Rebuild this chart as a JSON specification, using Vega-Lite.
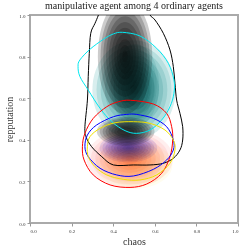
{
  "$schema": "https://vega.github.io/schema/vega-lite/v6.json",
  "width": 208,
  "height": 208,
  "autosize": {"type": "none"},
  "padding": {"left": 30, "top": 15, "right": 11, "bottom": 26},
  "background": "white",
  "title": {"text": "manipulative agent among 4 ordinary agents", "font": "Liberation Serif", "fontSize": 10, "fontWeight": "normal", "color": "#222222", "offset": 2},
  "config": {
    "view": {"stroke": "#aaaaaa", "strokeWidth": 2},
    "axis": {"grid": false, "domain": false, "tickColor": "#999999", "tickSize": 3, "labelFont": "Liberation Serif", "labelFontSize": 5, "labelColor": "#333333", "titleFont": "Liberation Serif", "titleFontSize": 10, "titleFontWeight": "normal", "titleColor": "#333333", "labelPadding": 2}
  },
  "datasets": {
    "blobs": [
      {"blob": "black-top", "cx": 0.457, "cy": 0.80, "level": 1},
      {"blob": "black-top", "cx": 0.457, "cy": 0.80, "level": 2},
      {"blob": "black-top", "cx": 0.457, "cy": 0.80, "level": 3},
      {"blob": "black-top", "cx": 0.457, "cy": 0.80, "level": 4},
      {"blob": "black-top", "cx": 0.457, "cy": 0.80, "level": 5},
      {"blob": "black-top", "cx": 0.457, "cy": 0.80, "level": 6},
      {"blob": "black-top", "cx": 0.457, "cy": 0.80, "level": 7},
      {"blob": "black-top", "cx": 0.457, "cy": 0.80, "level": 8},
      {"blob": "black-top", "cx": 0.457, "cy": 0.80, "level": 9},
      {"blob": "black-top", "cx": 0.457, "cy": 0.80, "level": 10},
      {"blob": "black-low", "cx": 0.46, "cy": 0.44, "level": 3},
      {"blob": "black-low", "cx": 0.46, "cy": 0.44, "level": 4},
      {"blob": "black-low", "cx": 0.46, "cy": 0.44, "level": 5},
      {"blob": "black-low", "cx": 0.46, "cy": 0.44, "level": 6},
      {"blob": "black-low", "cx": 0.46, "cy": 0.44, "level": 7},
      {"blob": "black-low", "cx": 0.46, "cy": 0.44, "level": 8},
      {"blob": "black-low", "cx": 0.46, "cy": 0.44, "level": 9},
      {"blob": "black-low", "cx": 0.46, "cy": 0.44, "level": 10},
      {"blob": "teal-wide", "cx": 0.50, "cy": 0.64, "level": 1},
      {"blob": "teal-wide", "cx": 0.50, "cy": 0.64, "level": 2},
      {"blob": "teal-wide", "cx": 0.50, "cy": 0.64, "level": 3},
      {"blob": "teal-wide", "cx": 0.50, "cy": 0.64, "level": 4},
      {"blob": "teal-wide", "cx": 0.50, "cy": 0.64, "level": 5},
      {"blob": "teal-wide", "cx": 0.50, "cy": 0.64, "level": 6},
      {"blob": "teal-wide", "cx": 0.50, "cy": 0.64, "level": 7},
      {"blob": "teal-wide", "cx": 0.50, "cy": 0.64, "level": 8},
      {"blob": "teal-wide", "cx": 0.50, "cy": 0.64, "level": 9},
      {"blob": "teal-wide", "cx": 0.50, "cy": 0.64, "level": 10},
      {"blob": "teal-core", "cx": 0.505, "cy": 0.66, "level": 1},
      {"blob": "teal-core", "cx": 0.505, "cy": 0.66, "level": 2},
      {"blob": "teal-core", "cx": 0.505, "cy": 0.66, "level": 3},
      {"blob": "teal-core", "cx": 0.505, "cy": 0.66, "level": 4},
      {"blob": "teal-core", "cx": 0.505, "cy": 0.66, "level": 5},
      {"blob": "teal-core", "cx": 0.505, "cy": 0.66, "level": 6},
      {"blob": "teal-core", "cx": 0.505, "cy": 0.66, "level": 7},
      {"blob": "teal-core", "cx": 0.505, "cy": 0.66, "level": 8},
      {"blob": "teal-core", "cx": 0.505, "cy": 0.66, "level": 9},
      {"blob": "teal-core", "cx": 0.505, "cy": 0.66, "level": 10},
      {"blob": "blue", "cx": 0.473, "cy": 0.36, "level": 1},
      {"blob": "blue", "cx": 0.473, "cy": 0.36, "level": 2},
      {"blob": "blue", "cx": 0.473, "cy": 0.36, "level": 3},
      {"blob": "blue", "cx": 0.473, "cy": 0.36, "level": 4},
      {"blob": "blue", "cx": 0.473, "cy": 0.36, "level": 5},
      {"blob": "blue", "cx": 0.473, "cy": 0.36, "level": 6},
      {"blob": "blue", "cx": 0.473, "cy": 0.36, "level": 7},
      {"blob": "blue", "cx": 0.473, "cy": 0.36, "level": 8},
      {"blob": "blue", "cx": 0.473, "cy": 0.36, "level": 9},
      {"blob": "blue", "cx": 0.473, "cy": 0.36, "level": 10},
      {"blob": "red", "cx": 0.48, "cy": 0.31, "level": 1},
      {"blob": "red", "cx": 0.48, "cy": 0.31, "level": 2},
      {"blob": "red", "cx": 0.48, "cy": 0.31, "level": 3},
      {"blob": "red", "cx": 0.48, "cy": 0.31, "level": 4},
      {"blob": "red", "cx": 0.48, "cy": 0.31, "level": 5},
      {"blob": "red", "cx": 0.48, "cy": 0.31, "level": 6},
      {"blob": "red", "cx": 0.48, "cy": 0.31, "level": 7},
      {"blob": "red", "cx": 0.48, "cy": 0.31, "level": 8},
      {"blob": "red", "cx": 0.48, "cy": 0.31, "level": 9},
      {"blob": "red", "cx": 0.48, "cy": 0.31, "level": 10},
      {"blob": "yellow", "cx": 0.50, "cy": 0.28, "level": 1},
      {"blob": "yellow", "cx": 0.50, "cy": 0.28, "level": 2},
      {"blob": "yellow", "cx": 0.50, "cy": 0.28, "level": 3},
      {"blob": "yellow", "cx": 0.50, "cy": 0.28, "level": 4},
      {"blob": "yellow", "cx": 0.50, "cy": 0.28, "level": 5},
      {"blob": "yellow", "cx": 0.50, "cy": 0.28, "level": 6},
      {"blob": "yellow", "cx": 0.50, "cy": 0.28, "level": 7},
      {"blob": "yellow", "cx": 0.50, "cy": 0.28, "level": 8},
      {"blob": "yellow", "cx": 0.50, "cy": 0.28, "level": 9},
      {"blob": "yellow", "cx": 0.50, "cy": 0.28, "level": 10}
    ],
    "contours": [
      {"agent": "black", "i": 0, "x": 0.329, "y": 1.0},
      {"agent": "black", "i": 1, "x": 0.3125, "y": 0.960},
      {"agent": "black", "i": 2, "x": 0.292, "y": 0.912},
      {"agent": "black", "i": 3, "x": 0.285, "y": 0.816},
      {"agent": "black", "i": 4, "x": 0.280, "y": 0.704},
      {"agent": "black", "i": 5, "x": 0.276, "y": 0.591},
      {"agent": "black", "i": 6, "x": 0.264, "y": 0.463},
      {"agent": "black", "i": 7, "x": 0.269, "y": 0.415},
      {"agent": "black", "i": 8, "x": 0.296, "y": 0.367},
      {"agent": "black", "i": 9, "x": 0.345, "y": 0.319},
      {"agent": "black", "i": 10, "x": 0.401, "y": 0.279},
      {"agent": "black", "i": 11, "x": 0.497, "y": 0.279},
      {"agent": "black", "i": 12, "x": 0.577, "y": 0.279},
      {"agent": "black", "i": 13, "x": 0.641, "y": 0.287},
      {"agent": "black", "i": 14, "x": 0.689, "y": 0.311},
      {"agent": "black", "i": 15, "x": 0.721, "y": 0.351},
      {"agent": "black", "i": 16, "x": 0.734, "y": 0.399},
      {"agent": "black", "i": 17, "x": 0.734, "y": 0.463},
      {"agent": "black", "i": 18, "x": 0.721, "y": 0.527},
      {"agent": "black", "i": 19, "x": 0.705, "y": 0.591},
      {"agent": "black", "i": 20, "x": 0.697, "y": 0.671},
      {"agent": "black", "i": 21, "x": 0.689, "y": 0.752},
      {"agent": "black", "i": 22, "x": 0.673, "y": 0.832},
      {"agent": "black", "i": 23, "x": 0.641, "y": 0.912},
      {"agent": "black", "i": 24, "x": 0.601, "y": 0.976},
      {"agent": "black", "i": 25, "x": 0.577, "y": 1.0},
      {"agent": "black", "i": 26, "x": 0.55, "y": 1.06},
      {"agent": "black", "i": 27, "x": 0.45, "y": 1.09},
      {"agent": "black", "i": 28, "x": 0.35, "y": 1.06},
      {"agent": "cyan", "i": 0, "x": 0.4455, "y": 0.9167},
      {"agent": "cyan", "i": 1, "x": 0.529, "y": 0.899},
      {"agent": "cyan", "i": 2, "x": 0.609, "y": 0.840},
      {"agent": "cyan", "i": 3, "x": 0.665, "y": 0.768},
      {"agent": "cyan", "i": 4, "x": 0.692, "y": 0.688},
      {"agent": "cyan", "i": 5, "x": 0.692, "y": 0.623},
      {"agent": "cyan", "i": 6, "x": 0.673, "y": 0.559},
      {"agent": "cyan", "i": 7, "x": 0.633, "y": 0.495},
      {"agent": "cyan", "i": 8, "x": 0.577, "y": 0.447},
      {"agent": "cyan", "i": 9, "x": 0.513, "y": 0.431},
      {"agent": "cyan", "i": 10, "x": 0.457, "y": 0.444},
      {"agent": "cyan", "i": 11, "x": 0.393, "y": 0.487},
      {"agent": "cyan", "i": 12, "x": 0.337, "y": 0.551},
      {"agent": "cyan", "i": 13, "x": 0.280, "y": 0.639},
      {"agent": "cyan", "i": 14, "x": 0.240, "y": 0.704},
      {"agent": "cyan", "i": 15, "x": 0.231, "y": 0.752},
      {"agent": "cyan", "i": 16, "x": 0.240, "y": 0.784},
      {"agent": "cyan", "i": 17, "x": 0.288, "y": 0.835},
      {"agent": "cyan", "i": 18, "x": 0.353, "y": 0.883},
      {"agent": "cyan", "i": 19, "x": 0.401, "y": 0.909},
      {"agent": "red", "i": 0, "x": 0.484, "y": 0.590},
      {"agent": "red", "i": 1, "x": 0.593, "y": 0.572},
      {"agent": "red", "i": 2, "x": 0.657, "y": 0.527},
      {"agent": "red", "i": 3, "x": 0.681, "y": 0.463},
      {"agent": "red", "i": 4, "x": 0.686, "y": 0.399},
      {"agent": "red", "i": 5, "x": 0.673, "y": 0.319},
      {"agent": "red", "i": 6, "x": 0.633, "y": 0.239},
      {"agent": "red", "i": 7, "x": 0.561, "y": 0.1875},
      {"agent": "red", "i": 8, "x": 0.481, "y": 0.171},
      {"agent": "red", "i": 9, "x": 0.385, "y": 0.183},
      {"agent": "red", "i": 10, "x": 0.304, "y": 0.231},
      {"agent": "red", "i": 11, "x": 0.260, "y": 0.303},
      {"agent": "red", "i": 12, "x": 0.252, "y": 0.367},
      {"agent": "red", "i": 13, "x": 0.264, "y": 0.431},
      {"agent": "red", "i": 14, "x": 0.304, "y": 0.503},
      {"agent": "red", "i": 15, "x": 0.369, "y": 0.559},
      {"agent": "red", "i": 16, "x": 0.425, "y": 0.583},
      {"agent": "blue", "i": 0, "x": 0.513, "y": 0.522},
      {"agent": "blue", "i": 1, "x": 0.593, "y": 0.503},
      {"agent": "blue", "i": 2, "x": 0.657, "y": 0.463},
      {"agent": "blue", "i": 3, "x": 0.689, "y": 0.399},
      {"agent": "blue", "i": 4, "x": 0.689, "y": 0.351},
      {"agent": "blue", "i": 5, "x": 0.657, "y": 0.303},
      {"agent": "blue", "i": 6, "x": 0.593, "y": 0.258},
      {"agent": "blue", "i": 7, "x": 0.497, "y": 0.226},
      {"agent": "blue", "i": 8, "x": 0.417, "y": 0.231},
      {"agent": "blue", "i": 9, "x": 0.337, "y": 0.263},
      {"agent": "blue", "i": 10, "x": 0.280, "y": 0.319},
      {"agent": "blue", "i": 11, "x": 0.264, "y": 0.367},
      {"agent": "blue", "i": 12, "x": 0.276, "y": 0.423},
      {"agent": "blue", "i": 13, "x": 0.320, "y": 0.471},
      {"agent": "blue", "i": 14, "x": 0.401, "y": 0.511},
      {"agent": "blue", "i": 15, "x": 0.465, "y": 0.522},
      {"agent": "yellow", "i": 0, "x": 0.497, "y": 0.487},
      {"agent": "yellow", "i": 1, "x": 0.577, "y": 0.479},
      {"agent": "yellow", "i": 2, "x": 0.649, "y": 0.447},
      {"agent": "yellow", "i": 3, "x": 0.689, "y": 0.399},
      {"agent": "yellow", "i": 4, "x": 0.697, "y": 0.351},
      {"agent": "yellow", "i": 5, "x": 0.673, "y": 0.287},
      {"agent": "yellow", "i": 6, "x": 0.609, "y": 0.231},
      {"agent": "yellow", "i": 7, "x": 0.529, "y": 0.207},
      {"agent": "yellow", "i": 8, "x": 0.449, "y": 0.210},
      {"agent": "yellow", "i": 9, "x": 0.369, "y": 0.231},
      {"agent": "yellow", "i": 10, "x": 0.3125, "y": 0.271},
      {"agent": "yellow", "i": 11, "x": 0.280, "y": 0.319},
      {"agent": "yellow", "i": 12, "x": 0.276, "y": 0.367},
      {"agent": "yellow", "i": 13, "x": 0.288, "y": 0.415},
      {"agent": "yellow", "i": 14, "x": 0.337, "y": 0.455},
      {"agent": "yellow", "i": 15, "x": 0.409, "y": 0.482}
    ]
  },
  "layer": [
    {
      "data": {"name": "blobs"},
      "mark": {"type": "point", "filled": true, "strokeWidth": 0, "blend": "multiply", "clip": true},
      "encoding": {
        "x": {"field": "cx", "type": "quantitative", "scale": {"domain": [0, 1], "nice": false}, "axis": {"title": "chaos", "values": [0, 0.2, 0.4, 0.6, 0.8, 1.0], "format": ".1f", "titlePadding": 3}},
        "y": {"field": "cy", "type": "quantitative", "scale": {"domain": [0, 1], "nice": false}, "axis": {"title": "repputation", "values": [0, 0.2, 0.4, 0.6, 0.8, 1.0], "format": ".1f", "titlePadding": 4}},
        "size": {"field": "level", "type": "quantitative", "scale": {"type": "pow", "exponent": 2, "domain": [0, 10], "range": [0, 4096]}, "legend": null},
        "shape": {"field": "blob", "type": "nominal", "legend": null, "scale": {
          "domain": ["black-top", "black-low", "teal-wide", "teal-core", "blue", "red", "yellow"],
          "range": [
            "M -0.85 0 A 0.85 1.8 0 1 0 0.85 0 A 0.85 1.8 0 1 0 -0.85 0 Z",
            "M -0.9 0 A 0.9 0.45 0 1 0 0.9 0 A 0.9 0.45 0 1 0 -0.9 0 Z",
            "M -1.3 0 A 1.3 1.55 0 1 0 1.3 0 A 1.3 1.55 0 1 0 -1.3 0 Z",
            "M -0.75 0 A 0.75 1.3 0 1 0 0.75 0 A 0.75 1.3 0 1 0 -0.75 0 Z",
            "M -0.9 0 A 0.9 0.45 0 1 0 0.9 0 A 0.9 0.45 0 1 0 -0.9 0 Z",
            "M -1.35 0 A 1.35 0.9 0 1 0 1.35 0 A 1.35 0.9 0 1 0 -1.35 0 Z",
            "M -1.2 0 A 1.2 0.75 0 1 0 1.2 0 A 1.2 0.75 0 1 0 -1.2 0 Z"
          ]}},
        "fill": {"field": "blob", "type": "nominal", "legend": null, "scale": {
          "domain": ["black-top", "black-low", "teal-wide", "teal-core", "blue", "red", "yellow"],
          "range": ["#000000", "#000000", "#008b8b", "#008b8b", "#0000ff", "#ff3030", "#ffdd00"]}},
        "opacity": {"field": "blob", "type": "nominal", "legend": null, "scale": {
          "domain": ["black-top", "black-low", "teal-wide", "teal-core", "blue", "red", "yellow"],
          "range": [0.2, 0.06, 0.06, 0.09, 0.18, 0.045, 0.04]}}
      }
    },
    {
      "data": {"name": "contours"},
      "mark": {"type": "line", "interpolate": "cardinal-closed", "strokeWidth": 1, "clip": true},
      "encoding": {
        "x": {"field": "x", "type": "quantitative"},
        "y": {"field": "y", "type": "quantitative"},
        "order": {"field": "i", "type": "quantitative"},
        "detail": {"field": "agent", "type": "nominal"},
        "stroke": {"field": "agent", "type": "nominal", "legend": null, "scale": {
          "domain": ["black", "cyan", "red", "blue", "yellow"],
          "range": ["#000000", "#00e8f0", "#ff0000", "#0000ff", "#f0e000"]}}
      }
    }
  ]
}
